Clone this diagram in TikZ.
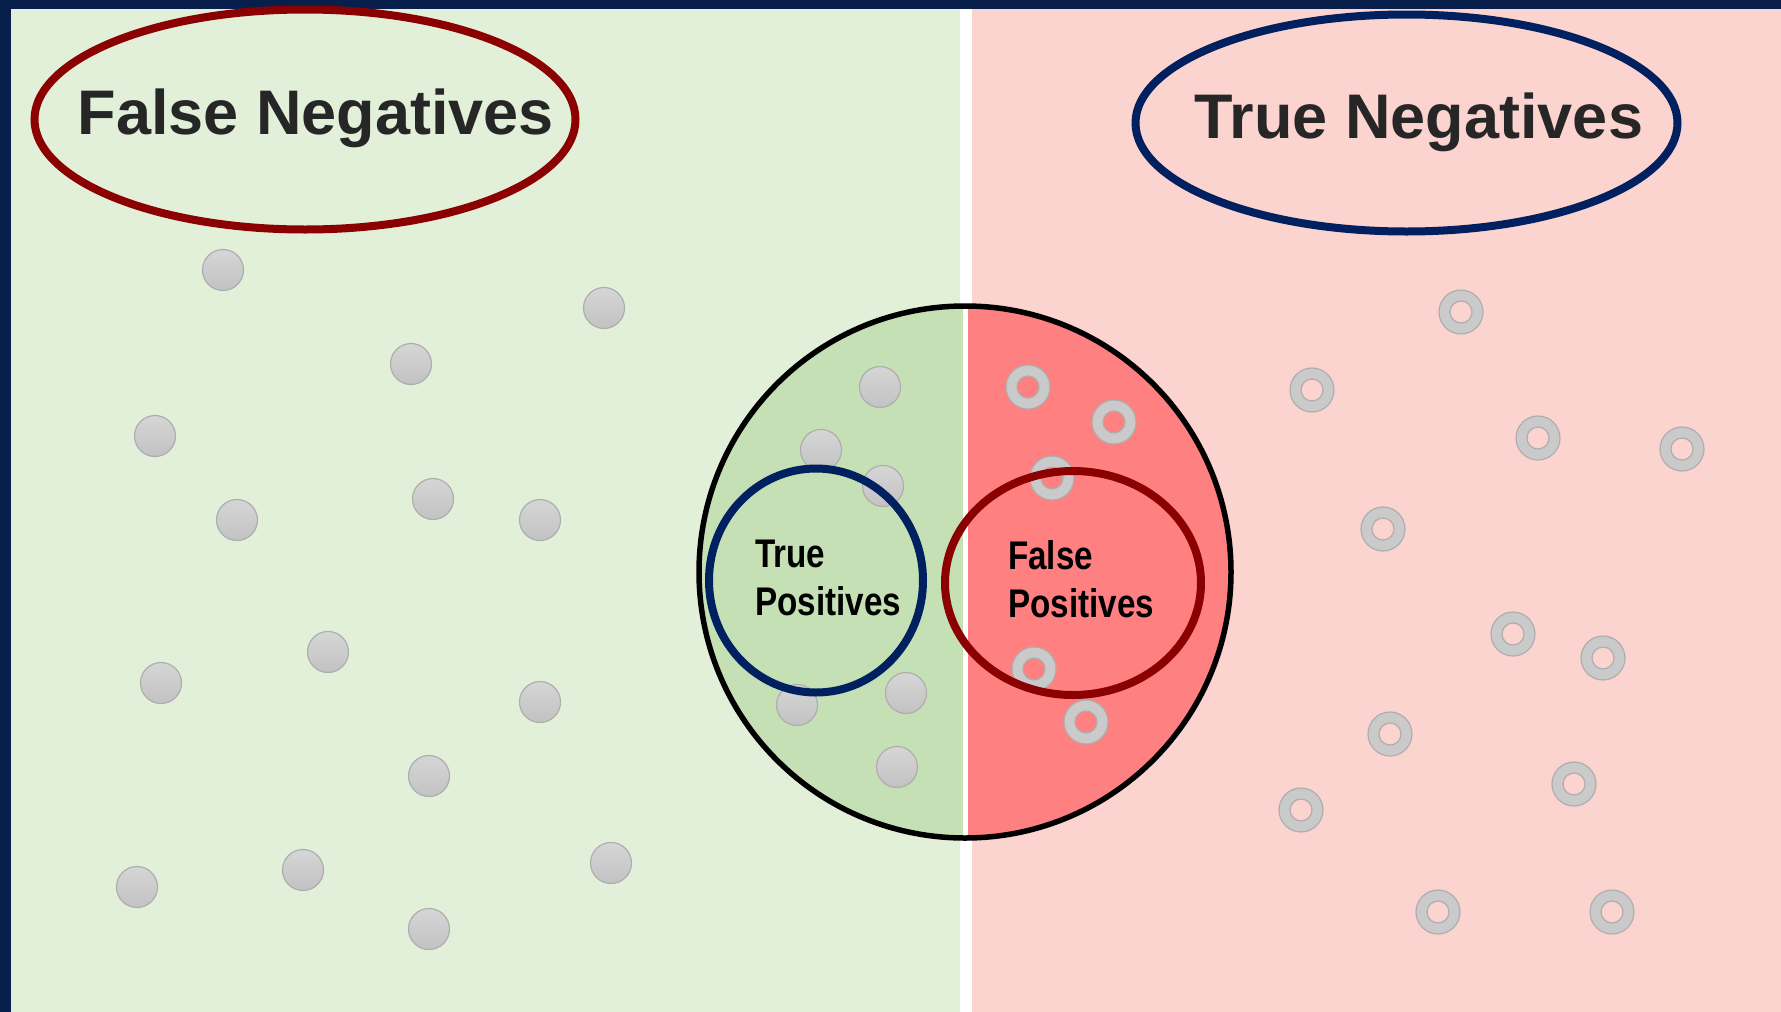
\documentclass[tikz,border=0pt]{standalone}
\usepackage{fontspec}
\setmainfont{Liberation Sans}
\newfontfamily\condfont[FakeStretch=0.83]{Liberation Sans}
\usetikzlibrary{shapes.geometric}
\definecolor{navyband}{HTML}{081F4B}
\definecolor{greenbg}{HTML}{E2F0D9}
\definecolor{pinkbg}{HTML}{FBD3CF}
\definecolor{greenin}{HTML}{C5E0B4}
\definecolor{redin}{HTML}{FF8080}
\definecolor{navy}{HTML}{002060}
\definecolor{darkred}{HTML}{8B0000}
\definecolor{dotedge}{HTML}{AEAEAE}
\definecolor{dottop}{HTML}{D6D6D6}
\definecolor{dotbot}{HTML}{C2C2C2}
\definecolor{ringfill}{HTML}{CACACA}
\definecolor{textgray}{HTML}{262626}
\begin{document}
\begin{tikzpicture}[x=1pt,y=-1pt,
  dot/.style={top color=dottop,bottom color=dotbot,draw=dotedge,line width=1.2pt},
  ring/.style={even odd rule,fill=ringfill,draw=dotedge,line width=1.2pt},
  oval/.style={ellipse,inner sep=0pt,line width=8pt},
  bigtext/.style={anchor=base,inner sep=0pt,text=textgray,font=\fontsize{63}{70}\selectfont\bfseries},
  smalltext/.style={anchor=base west,inner sep=0pt,text=black,font=\condfont\fontsize{40}{48}\selectfont\bfseries}]
\useasboundingbox (0,0) rectangle (1781,1012);
% backgrounds
\fill[greenbg] (0,0) rectangle (966,1012);
\fill[pinkbg] (966,0) rectangle (1781,1012);
\fill[white] (960,0) rectangle (972,1012);
\fill[navyband] (0,0) rectangle (1781,9);
\fill[navyband] (0,0) rectangle (11,1012);
% big circle halves
\coordinate (C) at (965,572);
\begin{scope}
  \clip (C) circle[radius=266pt];
  \fill[greenin] (690,290) rectangle (963,850);
  \fill[redin] (968,290) rectangle (1240,850);
  \fill[white] (963,290) rectangle (968,850);
\end{scope}
% dots (negatives side)
\foreach \x/\y in {223/270,604/308,411/364,155/436,237/520,433/499,540/520,328/652,161/683,540/702,429/776,137/887,303/870,611/863,429/929,880/387,821/450,883/486,797/705,906/693,897/767}
  \shadedraw[dot] (\x,\y) circle[radius=20.5pt];
% rings (positives side)
\foreach \x/\y in {1461/312,1312/390,1538/438,1682/449,1383/529,1513/634,1603/658,1390/734,1574/784,1301/810,1438/912,1612/912,1028/387,1114/422,1052/478,1034/669,1086/722}
  \filldraw[ring] (\x,\y) circle[radius=22pt] circle[radius=11pt];
% big circle border
\node[circle,draw=black,line width=5.5pt,minimum size=532pt,inner sep=0pt] (big) at (C) {};
% ovals
\node[oval,draw=darkred,minimum width=541pt,minimum height=220pt] (fn) at (305,119.5) {};
\node[oval,draw=navy,minimum width=542pt,minimum height=217pt] (tn) at (1406.5,123) {};
\node[oval,draw=navy,minimum width=214pt,minimum height=224pt] (tp) at (816,580.5) {};
\node[oval,draw=darkred,minimum width=256pt,minimum height=224pt] (fp) at (1073,583) {};
% texts
\node[bigtext] (fnt) at (316,134) {False Negatives};
\node[bigtext] (tnt) at (1419,138.5) {True Negatives};
\node[smalltext] (tp1) at (755,567) {True};
\node[smalltext] (tp2) at (755,615) {Positives};
\node[smalltext] (fp1) at (1008,569) {False};
\node[smalltext] (fp2) at (1008,617) {Positives};
\end{tikzpicture}
\end{document}
